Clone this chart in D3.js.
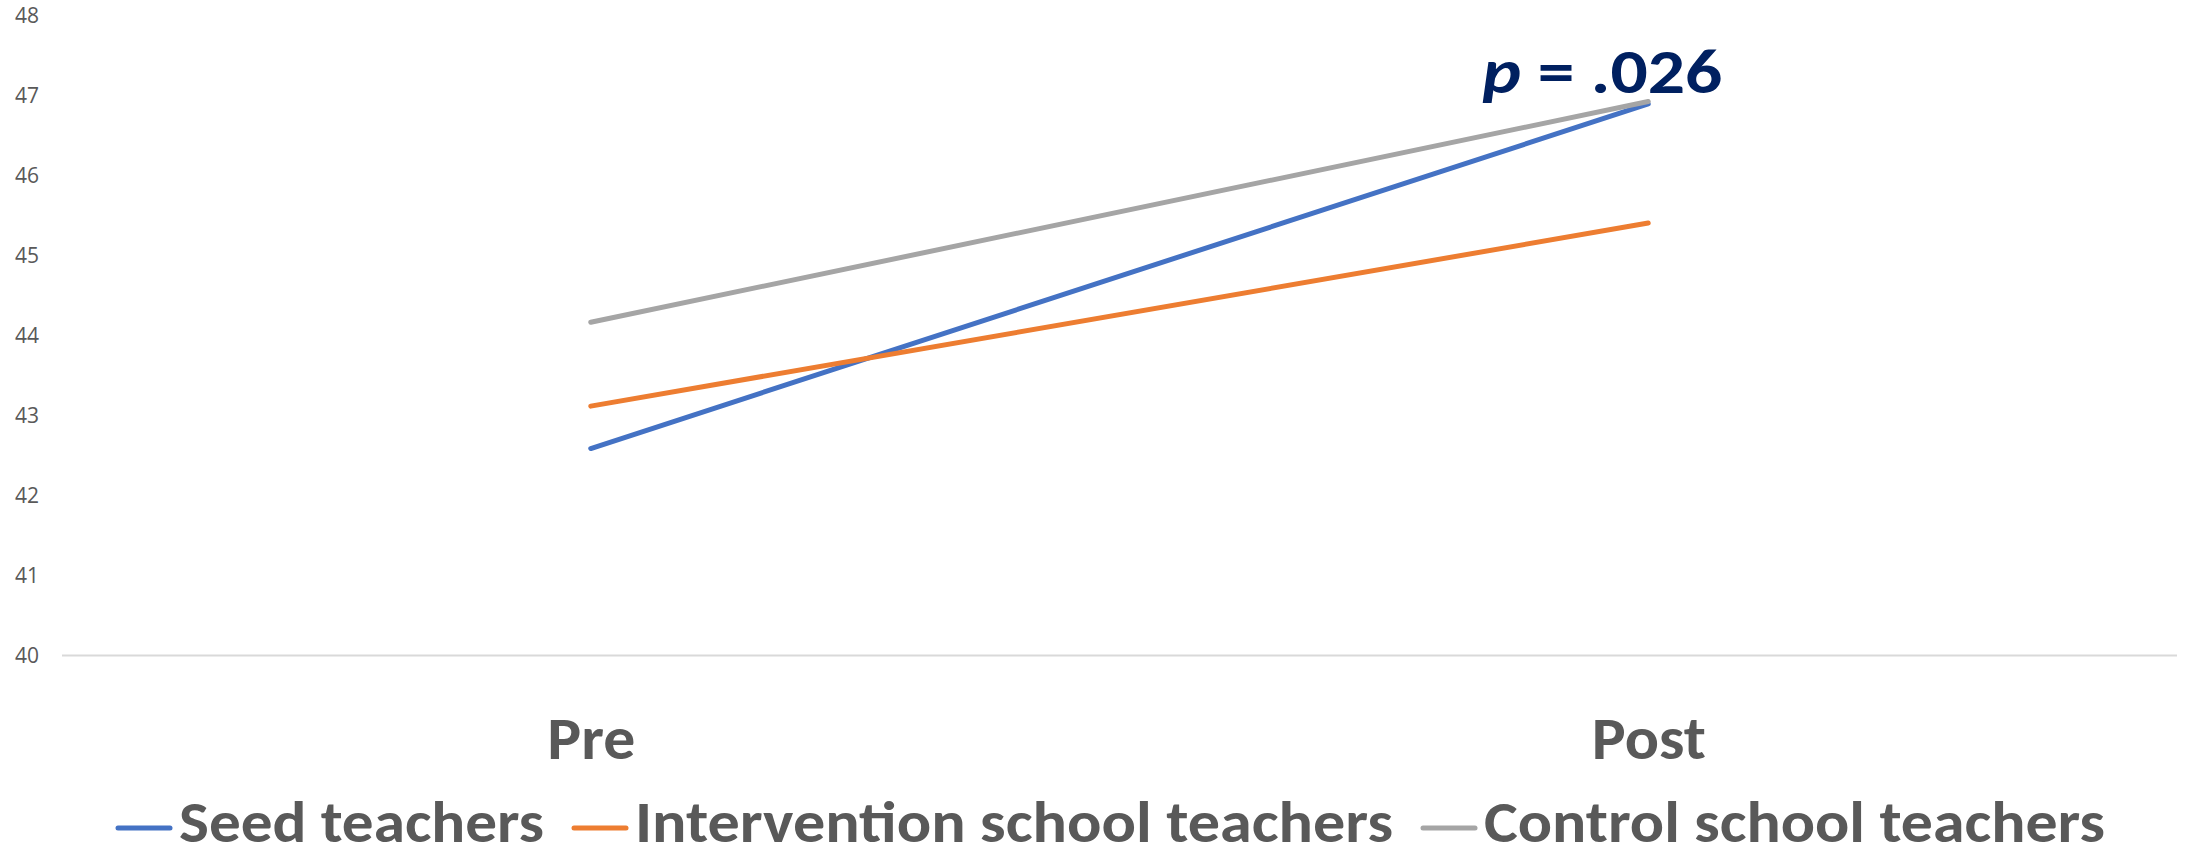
<!DOCTYPE html>
<html>
<head>
<meta charset="utf-8">
<script src="https://cdn.jsdelivr.net/npm/d3@7"></script>
<style>
  html, body { margin: 0; padding: 0; background: #ffffff; }
  svg { display: block; }
</style>
</head>
<body>
<svg id="chart" width="2188" height="860"></svg>
<script>
// Mean scores before and after, by teacher group
const categories = ["Pre", "Post"];
const seriesNames = ["Seed teachers", "Intervention school teachers", "Control school teachers"];
const seedValues = [42.59, 46.90];
const interventionValues = [43.12, 45.41];
const controlValues = [44.17, 46.93];
const yTicks = [40, 41, 42, 43, 44, 45, 46, 47, 48];
const pValueText = ".026";

const colors = ["#4472C4", "#ED7D31", "#A5A5A5"];
const textColor = "#595959";
const bigFont = "Carlito, Calibri, 'Liberation Sans Narrow', 'Arial Narrow', Lato, sans-serif";
const smallFont = "'Open Sans', 'Noto Sans', sans-serif";

const plot = { left: 62, right: 2177, top: 16, bottom: 655.6 };

const svg = d3.select("#chart");

const x = d3.scalePoint()
  .domain(categories)
  .range([plot.left, plot.right])
  .padding(0.5);

const y = d3.scaleLinear()
  .domain([40, 48])
  .range([plot.bottom, plot.top]);

// y-axis tick labels (no axis line, no gridlines)
const yAxis = d3.axisLeft(y).tickValues(yTicks).tickSize(0).tickPadding(23).tickFormat(d3.format("d"));
const gy = svg.append("g").attr("transform", `translate(${plot.left},0)`).call(yAxis);
gy.select(".domain").remove();
gy.selectAll("text")
  .attr("fill", textColor)
  .style("font-family", smallFont)
  .style("font-size", "21px");

// category axis baseline and labels
const xAxis = d3.axisBottom(x).tickSize(0).tickPadding(62).tickFormat(d => d);
const gx = svg.append("g").attr("transform", `translate(0,${plot.bottom})`).call(xAxis);
gx.select(".domain")
  .attr("d", `M${plot.left},0H${plot.right}`)
  .attr("stroke", "#D9D9D9")
  .attr("stroke-width", 2);
gx.selectAll("text")
  .attr("fill", textColor)
  .attr("dy", null)
  .attr("y", 103)
  .style("font-family", bigFont)
  .style("font-weight", "bold")
  .style("font-size", "60px")
  .attr("textLength", d => d === "Pre" ? 88 : 114)
  .attr("lengthAdjust", "spacingAndGlyphs");

// series lines
const series = [seedValues, interventionValues, controlValues].map((vals, i) => ({
  name: seriesNames[i],
  color: colors[i],
  points: categories.map((c, j) => ({ c, v: vals[j] }))
}));

const line = d3.line().x(d => x(d.c)).y(d => y(d.v));

svg.append("g").selectAll("path")
  .data(series)
  .join("path")
  .attr("d", d => line(d.points))
  .attr("fill", "none")
  .attr("stroke", d => d.color)
  .attr("stroke-width", 5)
  .attr("stroke-linecap", "round");

// significance label above the Post endpoints
const pt = svg.append("text")
  .attr("x", x("Post") - 166)
  .attr("y", y(47) - 3)
  .attr("fill", "#002060")
  .style("font-family", bigFont)
  .style("font-weight", "bold")
  .style("font-size", "62px")
  .attr("textLength", 240)
  .attr("lengthAdjust", "spacingAndGlyphs");
pt.append("tspan").style("font-style", "italic").text("p");
pt.append("tspan").text(" = " + pValueText);

// legend along the bottom
const legendWidths = [365, 758, 621];
const swatch = 56, swatchGap = 7, itemGap = 28;
const legendY = 842;
const legend = svg.append("g");
let cx = 116;
series.forEach((s, i) => {
  legend.append("line")
    .attr("x1", cx + 2).attr("x2", cx + swatch - 2)
    .attr("y1", legendY - 14).attr("y2", legendY - 14)
    .attr("stroke", s.color)
    .attr("stroke-width", 5)
    .attr("stroke-linecap", "round");
  legend.append("text")
    .attr("x", cx + swatch + swatchGap)
    .attr("y", legendY)
    .attr("fill", textColor)
    .style("font-family", bigFont)
    .style("font-weight", "bold")
    .style("font-size", "59px")
    .attr("textLength", legendWidths[i])
    .attr("lengthAdjust", "spacingAndGlyphs")
    .text(s.name);
  cx += swatch + swatchGap + legendWidths[i] + itemGap;
});
</script>
</body>
</html>
